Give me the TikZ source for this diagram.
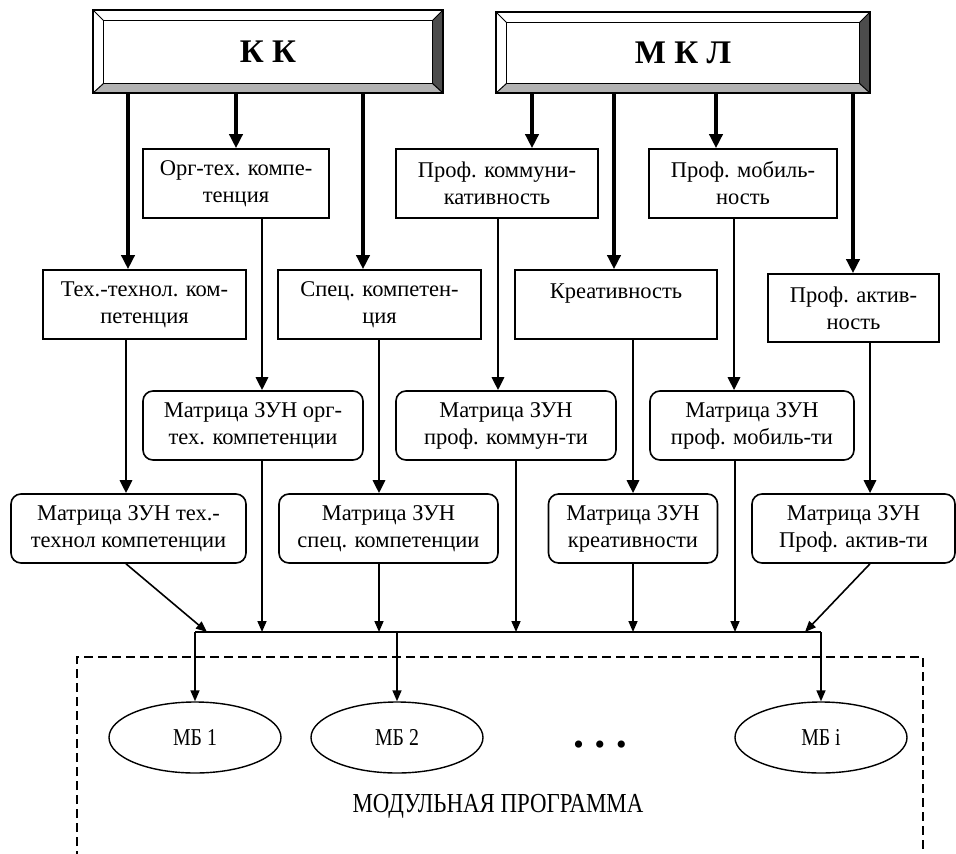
\documentclass[tikz,border=0pt]{standalone}
\usepackage{fontspec}
\setmainfont{Liberation Serif}
\usetikzlibrary{arrows.meta,calc,shapes.geometric}

% beveled frame around a named node
\newcommand{\bevelframe}[1]{%
  \coordinate (#1-a) at ($(#1.north west)+(11,11)$);
  \coordinate (#1-b) at ($(#1.south east)+(-11,-10)$);
  \fill[gray!60] (#1.south west) -- (#1.south east) -- (#1-b) -- (#1-a |- #1-b) -- cycle;
  \fill[black!70] (#1.north east) -- (#1.south east) -- (#1-b) -- (#1-b |- #1-a) -- cycle;
  \draw[line width=1.6pt] (#1.north west) rectangle (#1.south east);
  \draw[line width=1.3pt] (#1-a) rectangle (#1-b);
  \draw[line width=1pt] (#1.north west) -- (#1-a)
    (#1.north east) -- (#1-b |- #1-a)
    (#1.south west) -- (#1-a |- #1-b)
    (#1.south east) -- (#1-b);
}

\begin{document}
\begin{tikzpicture}[x=1pt, y=-1pt, font=\fontsize{22.5}{27}\selectfont]
    \tikzstyle{compbox} = [draw, line width=1.6pt, align=center, inner sep=0pt, minimum height=69pt]
    \tikzstyle{matbox} = [compbox, rounded corners=10pt]
    \tikzstyle{topbox} = [inner sep=0pt, font=\fontsize{33}{33}\bfseries\selectfont]
    \tikzstyle{mb} = [draw, ellipse, line width=1.4pt, minimum width=172pt, minimum height=71pt, inner sep=0pt, font=\fontsize{22}{24}\selectfont]
    \tikzstyle{big} = [line width=3.8pt, -{Triangle[length=14pt, width=13pt]}]
    \tikzstyle{link} = [line width=2.8pt, -{Triangle[length=13pt, width=12pt]}]
    \tikzstyle{feed} = [line width=1.6pt, -{Triangle[length=11pt, width=9pt]}]

    \useasboundingbox (0,0) rectangle (956,854);

    % top blocks
    \node[topbox, minimum width=350pt, minimum height=83pt] (kk) at (268,51.5) {К К};
    \node[topbox, minimum width=374pt, minimum height=81pt] (mkl) at (683,52.5) {М К Л};
    \bevelframe{kk}
    \bevelframe{mkl}

    % competences
    \node[compbox, minimum width=186pt] (org) at (236,183.5) {Орг-тех. компе-\\тенция};
    \node[compbox, minimum width=202pt] (kom) at (497,183.5) {Проф. коммуни-\\кативность};
    \node[compbox, minimum width=188pt] (mob) at (743,183.5) {Проф. мобиль-\\ность};
    \node[compbox, minimum width=203pt] (teh) at (144.5,304.5) {Тех.-технол. ком-\\петенция};
    \node[compbox, minimum width=203pt] (spec) at (379.5,304.5) {Спец. компетен-\\ция};
    \node[compbox, minimum width=202pt] (kreat) at (616,304.5) {Креативность\\\phantom{x}};
    \node[compbox, minimum width=171pt, minimum height=68pt] (akt) at (853.5,308) {Проф. актив-\\ность};

    % matrices
    \node[matbox, minimum width=220pt] (morg) at (253,425.5) {Матрица ЗУН орг-\\тех. компетенции};
    \node[matbox, minimum width=220pt] (mkom) at (506,425.5) {Матрица ЗУН\\проф. коммун-ти};
    \node[matbox, minimum width=204pt] (mmob) at (752,425.5) {Матрица ЗУН\\проф. мобиль-ти};
    \node[matbox, minimum width=235pt] (mteh) at (128.5,528.5) {Матрица ЗУН тех.-\\технол компетенции};
    \node[matbox, minimum width=219pt] (mspec) at (388.5,528.5) {Матрица ЗУН\\спец. компетенции};
    \node[matbox, minimum width=169pt] (mkreat) at (633,528.5) {Матрица ЗУН\\креативности};
    \node[matbox, minimum width=203pt] (makt) at (853.5,528.5) {Матрица ЗУН\\Проф. актив-ти};

    % top arrows
    \draw[big] (kk.south -| 128,0) -- (teh.north -| 128,0);
    \draw[big] (kk.south -| org.north) -- (org.north);
    \draw[big] (kk.south -| 363,0) -- (spec.north -| 363,0);
    \draw[big] (mkl.south -| 532,0) -- (kom.north -| 532,0);
    \draw[big] (mkl.south -| 614,0) -- (kreat.north -| 614,0);
    \draw[big] (mkl.south -| 716,0) -- (mob.north -| 716,0);
    \draw[big] (mkl.south -| 853,0) -- (akt.north -| 853,0);

    % competence -> matrix
    \draw[link] (org.south -| 262,0) -- (morg.north -| 262,0);
    \draw[link] (kom.south -| 498,0) -- (mkom.north -| 498,0);
    \draw[link] (mob.south -| 734,0) -- (mmob.north -| 734,0);
    \draw[link] (teh.south -| 126,0) -- (mteh.north -| 126,0);
    \draw[link] (spec.south -| 379,0) -- (mspec.north -| 379,0);
    \draw[link] (kreat.south -| 633,0) -- (mkreat.north -| 633,0);
    \draw[link] (akt.south -| 870,0) -- (makt.north -| 870,0);

    % bus
    \coordinate (busL) at (195,632);
    \coordinate (busR) at (821,632);
    \coordinate (bus2) at (397,632);
    \draw[line width=1.6pt] (busL) -- (busR);
    \draw[feed] (mteh.south -| 126,0) -- (207,632);
    \draw[feed] (morg.south -| 262,0) -- (busL -| 262,0);
    \draw[feed] (mspec.south -| 379,0) -- (busL -| 379,0);
    \draw[feed] (mkom.south -| 516,0) -- (busL -| 516,0);
    \draw[feed] (mkreat.south) -- (busL -| mkreat.south);
    \draw[feed] (mmob.south -| 735,0) -- (busL -| 735,0);
    \draw[feed] (makt.south -| 870,0) -- (805,632);

    % modular program
    \draw[line width=1.3pt, dash pattern=on 9pt off 5pt] (77,860) -- (77,657) -- (923,657) -- (923,860);
    \node[mb] (mb1) at (195,737.5) {\scalebox{0.9}[1.1]{МБ 1}};
    \node[mb] (mb2) at (397,737.5) {\scalebox{0.9}[1.1]{МБ 2}};
    \node[mb] (mbi) at (821,737.5) {\scalebox{0.9}[1.1]{МБ i}};
    \node[font=\fontsize{30}{30}\selectfont] (dots) at (600,748) {\textbullet\hspace{11pt}\textbullet\hspace{11pt}\textbullet};
    \node[font=\fontsize{22}{24}\selectfont] (prog) at (498,806) {\scalebox{1.04}[1.25]{МОДУЛЬНАЯ ПРОГРАММА}};

    \draw[feed] (busL) -- (mb1.north);
    \draw[feed] (bus2) -- (mb2.north);
    \draw[feed] (busR) -- (mbi.north);
\end{tikzpicture}
\end{document}
